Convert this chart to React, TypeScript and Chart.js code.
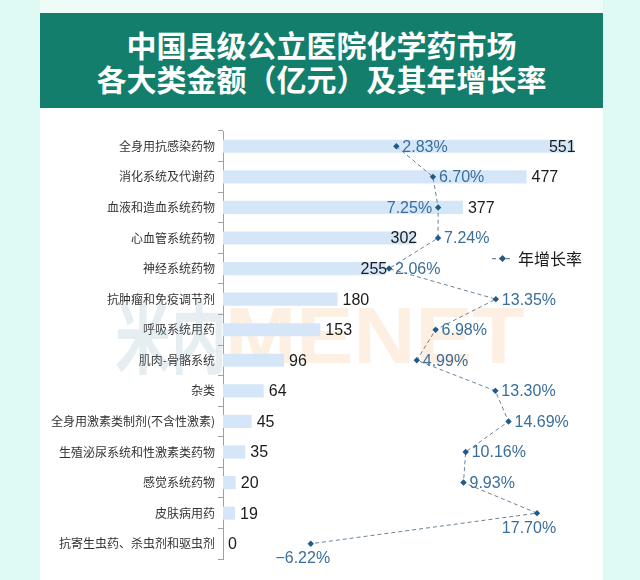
import React, { useEffect, useRef } from "react";
import { Chart, registerables } from "chart.js";

Chart.register(...registerables);

const categories = [
  "全身用抗感染药物",
  "消化系统及代谢药",
  "血液和造血系统药物",
  "心血管系统药物",
  "神经系统药物",
  "抗肿瘤和免疫调节剂",
  "呼吸系统用药",
  "肌肉-骨骼系统",
  "杂类",
  "全身用激素类制剂(不含性激素)",
  "生殖泌尿系统和性激素类药物",
  "感觉系统药物",
  "皮肤病用药",
  "抗寄生虫药、杀虫剂和驱虫剂",
];

const amounts = [551, 477, 377, 302, 255, 180, 153, 96, 64, 45, 35, 20, 19, 0];

const growthRates = [2.83, 6.7, 7.25, 7.24, 2.06, 13.35, 6.98, 4.99, 13.3, 14.69, 10.16, 9.93, 17.7, -6.22];

// label placement for amount labels: "in" = right-aligned at bar end, "out" = after bar end
const amountLabelPos = ["in", "out", "out", "in", "in", "out", "out", "out", "out", "out", "out", "out", "out", "out"];
// label placement for growth labels
const growthLabelPos = ["right", "right", "left", "right", "right", "right", "right", "right", "right", "right", "right", "right", "below", "below"];

const seriesBarName = "金额";
const seriesLineName = "年增长率";
const titleLines = ["中国县级公立医院化学药市场", "各大类金额（亿元）及其年增长率"];

const NUM_FONT = '"Liberation Sans", Arial, sans-serif';
const CJK_FONT = '"Noto Sans CJK SC", "Liberation Sans", sans-serif';
const PCT_COLOR = "#3a6e9b";
const POINT_COLOR = "#215a88";
const LINE_COLOR = "#6a8298";

const fmtPct = (v: number) => (v < 0 ? "−" : "") + Math.abs(v).toFixed(2) + "%";

const labelPlugin = {
  id: "customLabels",
  beforeDatasetsDraw(chart: any) {
    const ctx = chart.ctx;
    const area = chart.chartArea;
    ctx.save();
    // watermark
    ctx.globalAlpha = 0.22;
    ctx.textBaseline = "middle";
    ctx.font = `bold 80px ${CJK_FONT}`;
    ctx.fillStyle = "#8fb3c6";
    const wy = area.top + (area.bottom - area.top) * 0.48;
    const wx = area.left - 108;
    ctx.save();
    ctx.translate(wx, wy);
    ctx.scale(0.7, 1);
    ctx.fillText("米内", 0, 0);
    ctx.restore();
    ctx.save();
    ctx.translate(area.left + 2, wy + 4);
    ctx.scale(1.07, 1);
    ctx.font = `bold 80px ${NUM_FONT}`;
    ctx.fillStyle = "#f6b47a";
    ctx.fillText("MENET", 0, 0);
    ctx.restore();
    ctx.restore();
  },
  afterDatasetsDraw(chart: any) {
    const ctx = chart.ctx;
    ctx.save();
    ctx.textBaseline = "middle";
    const barMeta = chart.getDatasetMeta(1);
    ctx.font = `16px ${NUM_FONT}`;
    ctx.fillStyle = "#1b1b1b";
    barMeta.data.forEach((bar: any, i: number) => {
      const p = bar.getProps(["x", "y"], true);
      const text = String(amounts[i]);
      if (amountLabelPos[i] === "in") {
        ctx.textAlign = "right";
        ctx.fillText(text, p.x + 2, p.y + 1);
      } else {
        ctx.textAlign = "left";
        ctx.fillText(text, p.x + 5, p.y + 1);
      }
    });
    const lineMeta = chart.getDatasetMeta(0);
    ctx.font = `16px ${NUM_FONT}`;
    ctx.fillStyle = PCT_COLOR;
    lineMeta.data.forEach((pt: any, i: number) => {
      const p = pt.getProps(["x", "y"], true);
      const text = fmtPct(growthRates[i]);
      const pos = growthLabelPos[i];
      if (pos === "right") {
        ctx.textAlign = "left";
        ctx.fillText(text, p.x + 6, p.y + 1);
      } else if (pos === "left") {
        ctx.textAlign = "right";
        ctx.fillText(text, p.x - 6, p.y + 1);
      } else {
        ctx.textAlign = "center";
        ctx.fillText(text, p.x - 8, p.y + 15);
      }
    });
    // legend
    const area = chart.chartArea;
    const ly = area.top + (area.bottom - area.top) * 0.297;
    const lx = area.right - 88;
    ctx.strokeStyle = LINE_COLOR;
    ctx.lineWidth = 1.2;
    ctx.setLineDash([4, 3]);
    ctx.beginPath();
    ctx.moveTo(lx, ly + 0.5);
    ctx.lineTo(lx + 21, ly + 0.5);
    ctx.stroke();
    ctx.setLineDash([]);
    ctx.fillStyle = POINT_COLOR;
    ctx.beginPath();
    ctx.moveTo(lx + 10.5, ly - 3);
    ctx.lineTo(lx + 14, ly + 0.5);
    ctx.lineTo(lx + 10.5, ly + 4);
    ctx.lineTo(lx + 7, ly + 0.5);
    ctx.closePath();
    ctx.fill();
    ctx.font = `16px ${CJK_FONT}`;
    ctx.fillStyle = "#1b1b1b";
    ctx.textAlign = "left";
    ctx.fillText(seriesLineName, lx + 26, ly + 1);
    ctx.restore();
  },
};

export default function App() {
  const ref = useRef<HTMLCanvasElement>(null);

  useEffect(() => {
    if (!ref.current) return;
    const chart = new Chart(ref.current, {
      type: "bar",
      data: {
        labels: categories,
        datasets: [
          {
            type: "line",
            label: seriesLineName,
            data: growthRates,
            xAxisID: "x2",
            borderColor: LINE_COLOR,
            borderWidth: 1,
            borderDash: [4, 3],
            pointStyle: "rectRot",
            pointRadius: 3.2,
            pointBackgroundColor: POINT_COLOR,
            pointBorderColor: POINT_COLOR,
            pointBorderWidth: 0,
            tension: 0,
            fill: false,
            order: 0,
          } as any,
          {
            type: "bar",
            label: seriesBarName,
            data: amounts,
            xAxisID: "x",
            backgroundColor: "#d5e6f8",
            borderWidth: 0,
            barPercentage: 0.86,
            categoryPercentage: 0.5,
            order: 1,
          },
        ],
      },
      options: {
        indexAxis: "y",
        responsive: false,
        animation: false,
        layout: { padding: { left: 0, right: 23, top: 23, bottom: 21 } },
        plugins: {
          legend: { display: false },
          tooltip: { enabled: false },
          title: { display: false },
        },
        scales: {
          x: { type: "linear", display: false, min: 0, max: 561, position: "bottom" },
          x2: { type: "linear", display: false, min: -15.5, max: 22.25, position: "top" },
          y: {
            type: "category",
            offset: true,
            afterFit: (scale: any) => {
              scale.width = 183;
            },
            grid: {
              offset: true,
              drawOnChartArea: false,
              drawTicks: true,
              tickLength: 5,
              color: "#a0a0a0",
            },
            border: { display: true, color: "#a0a0a0", width: 1 },
            ticks: {
              padding: 3,
              color: "#333333",
              font: { size: 12, family: CJK_FONT },
              autoSkip: false,
            },
          },
        },
      },
      plugins: [labelPlugin],
    } as any);
    return () => chart.destroy();
  }, []);

  return (
    <div style={{ position: "fixed", left: 0, top: 0, width: 640, height: 580, background: "#dffaf4", overflow: "hidden" }}>
      <div style={{ position: "absolute", left: 40, top: 0, width: 563, height: 13, background: "#eefcf8" }} />
      <div style={{ position: "absolute", left: 40, top: 108, width: 563, height: 472, background: "#ffffff" }} />
      <div
        style={{
          position: "absolute",
          left: 40,
          top: 13,
          width: 563,
          height: 95,
          background: "#137e6b",
          color: "#ffffff",
          display: "flex",
          flexDirection: "column",
          justifyContent: "center",
          alignItems: "center",
          fontFamily: CJK_FONT,
          fontWeight: 700,
          fontSize: 30,
          lineHeight: "34px",
        }}
      >
        {titleLines.map((t) => (
          <div key={t}>{t}</div>
        ))}
      </div>
      <canvas ref={ref} width={563} height={472} style={{ position: "absolute", left: 40, top: 108, width: 563, height: 472 }} />
    </div>
  );
}
